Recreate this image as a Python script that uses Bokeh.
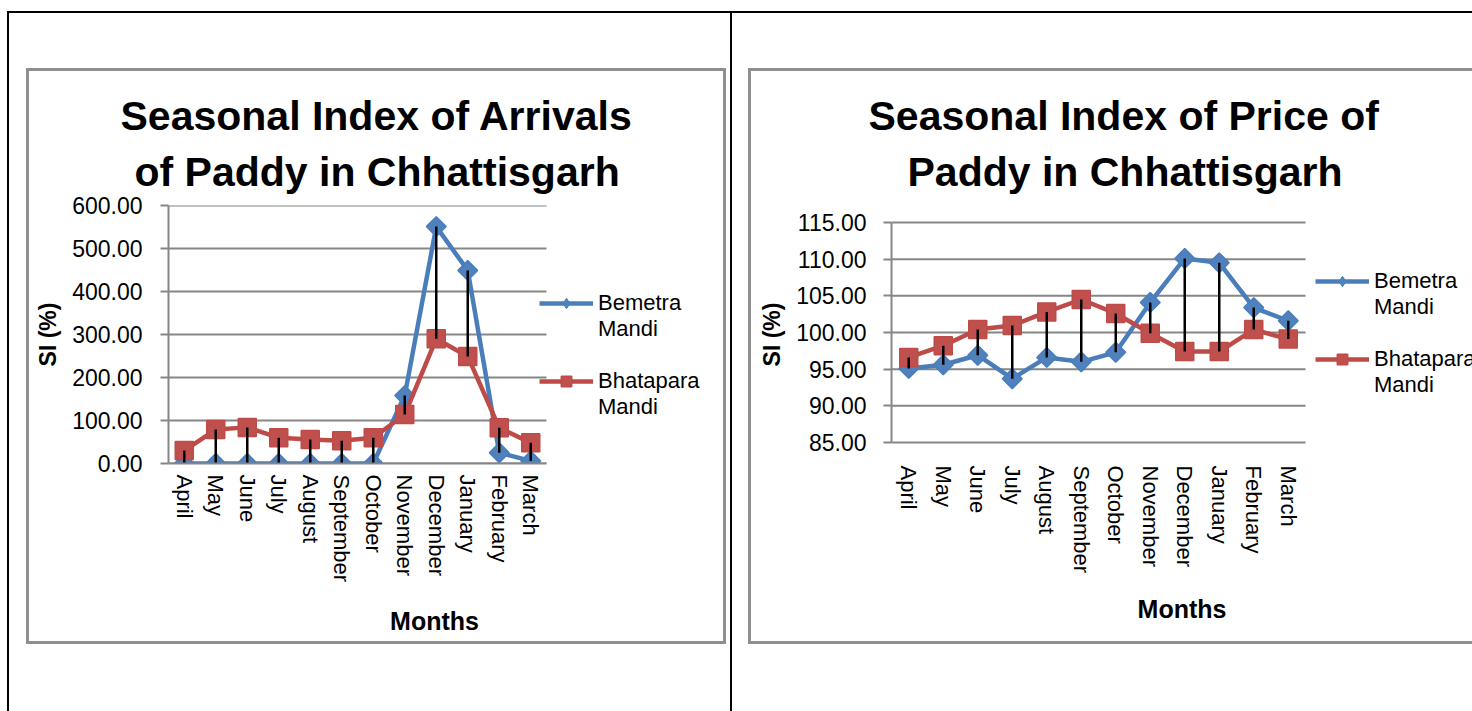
from bokeh.plotting import figure
from bokeh.models import (Range1d, FixedTicker, NumeralTickFormatter,
                          Legend, LegendItem, Title)
from bokeh.layouts import row
from bokeh.embed import file_html
from bokeh.resources import INLINE

# ---------------- data ----------------
months = ["April", "May", "June", "July", "August", "September", "October",
          "November", "December", "January", "February", "March"]

arrivals_bemetra = [0, 0, 0, 0, 0, 0, 0, 158, 551, 449, 25, 6]
arrivals_bhatapara = [30, 79, 84, 60, 56, 53, 60, 114, 290, 249, 83, 48]

price_bemetra = [95.1, 95.6, 96.9, 93.7, 96.6, 96.0, 97.3, 104.1, 110.1, 109.5, 103.4, 101.6]
price_bhatapara = [96.6, 98.2, 100.4, 100.95, 102.8, 104.5, 102.6, 99.9, 97.4, 97.4, 100.4, 99.1]

arrivals_ticks = [0, 100, 200, 300, 400, 500, 600]
price_ticks = [85, 90, 95, 100, 105, 110, 115]

series_names = ["Bemetra", "Mandi", " ", "Bhatapara", "Mandi"]

BLUE = "#4a7ebb"
BLUE_FILL = "#4f81bd"
RED = "#be4b48"
RED_FILL = "#c0504d"
GRID = "#868686"
BOX = "#8f8f8f"
FONT = "Liberation Sans"

H = 711
TOP = 205           # frame top (shared by both charts)
BOTTOM = 711 - 463  # frame bottom border
LEG_H = 26          # legend row height

N = len(months)
pos = [i + 1 for i in range(N)]          # category positions on the x scale
labels = {p: m for p, m in zip(pos, months)}


def rect(color, x, y, w, h):
    return f"linear-gradient({color},{color}) {x}px {y}px / {w}px {h}px no-repeat"


def make_chart(width, mb_lr, x_end, y_range, ticks, bem, bha, title_lines, title_offsets,
               title_standoffs, legend_loc, lab_standoff, axlab_standoff,
               bg_rects, y_bounds=None, x_axis_line=True):
    p = figure(width=width, height=H, x_range=Range1d(0.5, x_end),
               y_range=Range1d(*y_range), output_backend="svg", toolbar_location=None,
               min_border_left=mb_lr[0], min_border_right=mb_lr[1], min_border_top=TOP,
               min_border_bottom=BOTTOM, background_fill_color=None,
               border_fill_color=None, outline_line_color=None)
    p.title.visible = False
    p.styles = {"background": ", ".join(rect(*r) for r in bg_rects) + ", #ffffff"}

    # titles (line 2 first: closest to frame)
    for txt, off, so in zip(reversed(title_lines), reversed(title_offsets), title_standoffs):
        p.add_layout(Title(text=txt, align="left", text_font=FONT, text_font_size="41px",
                           text_font_style="bold", text_color="black", offset=off,
                           standoff=so), "above")

    # y axis
    p.yaxis.ticker = FixedTicker(ticks=ticks)
    p.yaxis.formatter = NumeralTickFormatter(format="0.00")
    if y_bounds is not None:
        p.yaxis.bounds = y_bounds
    p.yaxis.axis_label = "SI (%)"
    p.yaxis.axis_label_text_font = FONT
    p.yaxis.axis_label_text_font_size = "23px"
    p.yaxis.axis_label_text_font_style = "bold"
    p.yaxis.axis_label_text_color = "black"
    p.yaxis.axis_label_standoff = axlab_standoff[0]
    p.yaxis.major_label_text_font = FONT
    p.yaxis.major_label_text_font_size = "23px"
    p.yaxis.major_label_text_color = "black"
    p.yaxis.major_label_standoff = lab_standoff[0]
    p.yaxis.axis_line_color = GRID
    p.yaxis.axis_line_width = 2
    p.yaxis.major_tick_line_color = GRID
    p.yaxis.major_tick_line_width = 2
    p.yaxis.major_tick_out = 8
    p.yaxis.major_tick_in = 0
    p.yaxis.minor_tick_line_color = None

    # x axis (categories)
    p.xaxis.ticker = FixedTicker(ticks=pos)
    p.xaxis.major_label_overrides = labels
    p.xaxis.bounds = (0.5, N + 0.5)
    p.xaxis.axis_label = "Months"
    p.xaxis.axis_label_text_font = FONT
    p.xaxis.axis_label_text_font_size = "25px"
    p.xaxis.axis_label_text_font_style = "bold"
    p.xaxis.axis_label_text_color = "black"
    p.xaxis.axis_label_standoff = axlab_standoff[1]
    p.xaxis.major_label_text_font = FONT
    p.xaxis.major_label_text_font_size = "22px"
    p.xaxis.major_label_text_color = "black"
    p.xaxis.major_label_orientation = "vertical"
    p.xaxis.major_label_standoff = lab_standoff[1]
    p.xaxis.axis_line_color = GRID if x_axis_line else None
    p.xaxis.axis_line_width = 2
    p.xaxis.major_tick_line_color = None
    p.xaxis.minor_tick_line_color = None

    # horizontal gridlines limited to the category span
    p.xgrid.grid_line_color = None
    p.ygrid.grid_line_color = None
    p.segment(x0=0.5, x1=N + 0.5, y0=ticks, y1=ticks, line_color=GRID, line_width=2)

    # series
    l1 = p.line(pos, bem, line_color=BLUE, line_width=4.5)
    # small diamonds (hidden under the big ones) give the legend its diamond swatch
    d1 = p.scatter(pos, bem, marker="diamond", size=12, fill_color=BLUE_FILL,
                   line_color=BLUE, line_width=1)
    p.scatter(pos, bem, marker="square", angle=0.785398, size=14,
              fill_color=BLUE_FILL, line_color=BLUE, line_width=1.5)
    l2 = p.line(pos, bha, line_color=RED, line_width=4.5)
    s2 = p.scatter(pos, bha, marker="square", size=18,
                   fill_color=RED_FILL, line_color=RED, line_width=1.5)
    # high-low lines
    p.segment(x0=pos, y0=bem, x1=pos, y1=bha, line_color="black", line_width=2.5)

    dummy = p.line([], [], line_alpha=0)
    items = [LegendItem(label=series_names[0], renderers=[l1, d1]),
             LegendItem(label=series_names[1], renderers=[dummy]),
             LegendItem(label=series_names[2], renderers=[dummy]),
             LegendItem(label=series_names[3], renderers=[l2, s2]),
             LegendItem(label=series_names[4], renderers=[dummy])]
    leg = Legend(items=items, location=legend_loc, padding=0, margin=0, spacing=0,
                 glyph_width=54, glyph_height=LEG_H, label_height=LEG_H,
                 label_standoff=5, label_text_font=FONT, label_text_font_size="22px",
                 label_text_color="black", border_line_color=None,
                 background_fill_alpha=0)
    p.add_layout(leg, "center")
    return p


def legend_y(first_center):
    top = first_center - LEG_H / 2
    return 463 - (top + 5 * LEG_H)


# chart 1: page x 0..730 ; categories span x 168..546, frame runs to 700
unit1 = (546 - 168) / N
p1 = make_chart(730, (168, 30), 0.5 + (700 - 168) / unit1, (0, 600), arrivals_ticks,
                arrivals_bemetra, arrivals_bhatapara,
                ["Seasonal Index of Arrivals", "of Paddy in Chhattisgarh"],
                (-48, -34), (21, -4), (371, legend_y(303)), (18, 5), (8, 22),
                [("#000", 7, 11, 723, 2), ("#000", 7, 11, 2, 700),
                 (BOX, 26, 68, 700, 3), (BOX, 26, 641, 700, 3),
                 (BOX, 26, 68, 3, 576), (BOX, 723, 68, 3, 576)])

# chart 2: page x 730..1472 ; categories span x 891..1305, frame runs to 1472
# 115 sits at y=222 and 85 at y=442 inside the shared frame 205..463
unit2 = (1305 - 891) / N
px_per_unit = (442 - 222) / 30.0
price_range = (85 - (463 - 442) / px_per_unit, 115 + (222 - 205) / px_per_unit)
p2 = make_chart(742, (161, 0), 0.5 + (1472 - 891) / unit2, price_range, price_ticks,
                price_bemetra, price_bhatapara,
                ["Seasonal Index of Price of", "Paddy in Chhattisgarh"],
                (-23, 16), (21, -4), (424, legend_y(281)), (17, -4), (8, 19),
                [("#000", 0, 11, 742, 2), ("#000", 0, 11, 2, 700),
                 (BOX, 18, 68, 724, 3), (BOX, 18, 641, 724, 3),
                 (BOX, 18, 68, 3, 576)],
                y_bounds=(85, 115), x_axis_line=False)

layout = row(p1, p2, spacing=0)
open("out.html", "w").write(file_html(layout, INLINE))
